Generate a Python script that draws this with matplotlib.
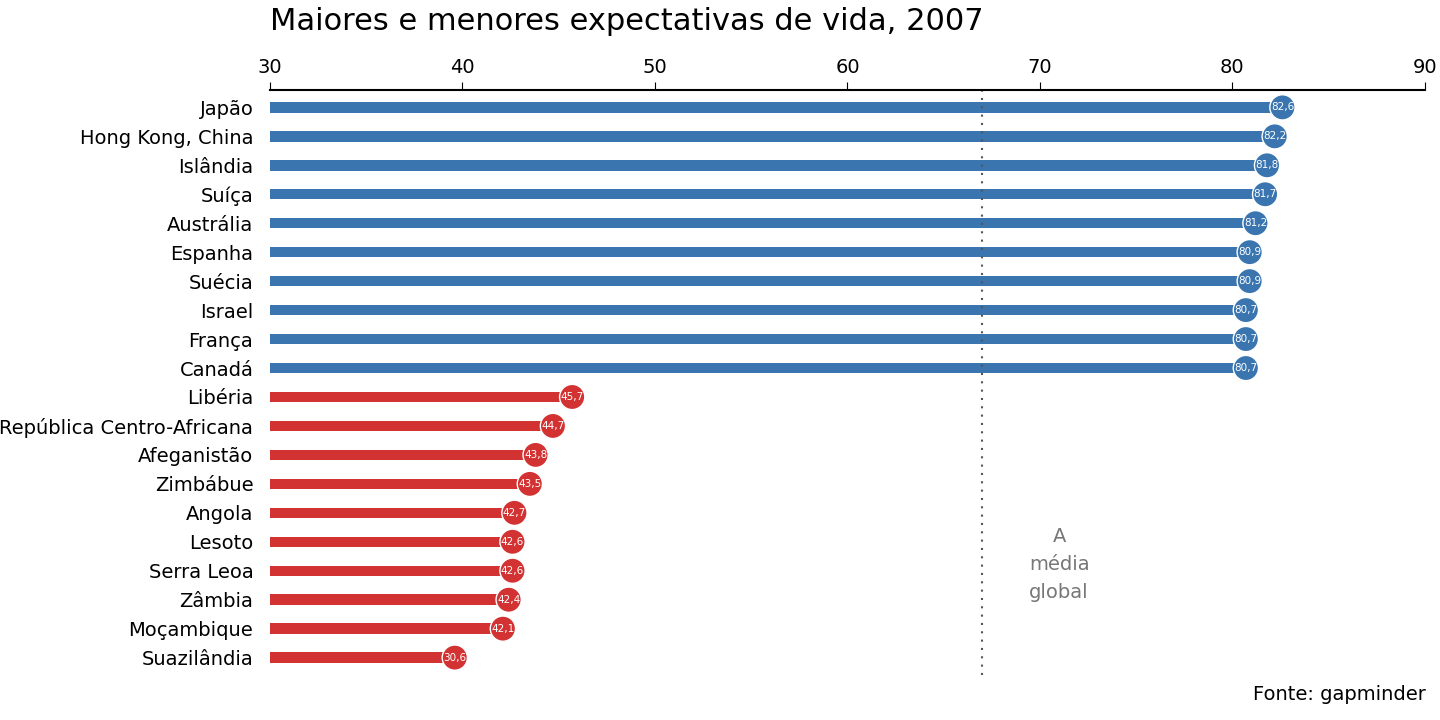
import matplotlib.pyplot as plt
import numpy as np

paises = ["Japão", "Hong Kong, China", "Islândia", "Suíça", "Austrália", "Espanha",
          "Suécia", "Israel", "França", "Canadá", "Libéria", "República Centro-Africana",
          "Afeganistão", "Zimbábue", "Angola", "Lesoto", "Serra Leoa", "Zâmbia",
          "Moçambique", "Suazilândia"]
expectativa = [82.6, 82.2, 81.8, 81.7, 81.2, 80.9, 80.9, 80.7, 80.7, 80.7,
               45.7, 44.7, 43.8, 43.5, 42.7, 42.6, 42.6, 42.4, 42.1, 39.6]
rotulos = ["82,6", "82,2", "81,8", "81,7", "81,2", "80,9", "80,9", "80,7", "80,7", "80,7",
           "45,7", "44,7", "43,8", "43,5", "42,7", "42,6", "42,6", "42,4", "42,1", "30,6"]
media_global = 67.0

azul = "#3a75b0"
vermelho = "#d33232"

fig = plt.figure(figsize=(14.4, 7.2), dpi=100)
ax = fig.add_axes([0.1875, 0.0625, 0.802, 0.8125])

y = np.arange(len(paises))
cores = [azul] * 10 + [vermelho] * 10
ax.barh(y, [v - 30 for v in expectativa], left=30, height=0.36, color=cores)
ax.scatter(expectativa, y, s=330, color=cores, edgecolors="white", linewidths=1, zorder=3)
for v, yy, r in zip(expectativa, y, rotulos):
    ax.text(v, yy, r, ha="center", va="center", color="white", fontsize=7.5, zorder=4)

ax.axvline(media_global, color="#555555", linestyle=(0, (1, 3)), linewidth=1.5)
ax.text(media_global + 4, 15.8, "A\nmédia\nglobal", ha="center", va="center",
        color="#777777", fontsize=14, linespacing=1.6)

ax.set_xlim(30, 90)
ax.set_ylim(len(paises) - 0.4, -0.6)
ax.set_yticks(y)
ax.set_yticklabels(paises, fontsize=14)
ax.xaxis.tick_top()
ax.set_xticks(range(30, 91, 10))
ax.tick_params(axis="x", labelsize=14, length=6)
ax.tick_params(axis="y", length=0, pad=12)
for s in ["right", "bottom", "left"]:
    ax.spines[s].set_visible(False)
ax.spines["top"].set_linewidth(1.5)

fig.text(0.1875, 0.97, "Maiores e menores expectativas de vida, 2007", fontsize=22, va="center")
fig.text(0.99, 0.035, "Fonte: gapminder", fontsize=14, ha="right", va="center")

fig.savefig("out.png")
